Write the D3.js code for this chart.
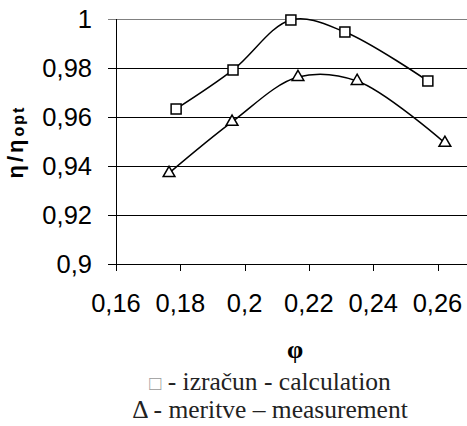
<!DOCTYPE html>
<html>
<head>
<meta charset="utf-8">
<script src="https://cdn.jsdelivr.net/npm/d3@7"></script>
<style>
  body { margin: 0; background: #fff; }
  svg { display: block; }
  .sans { font-family: "Liberation Sans", Arial, sans-serif; }
  .serif { font-family: "Liberation Serif", "Times New Roman", serif; }
</style>
</head>
<body>
<div id="chart"></div>
<script>
// values
var calcPhi = [0.1787, 0.1964, 0.2144, 0.2312, 0.2570];
var calcEta = [0.9633, 0.9792, 0.9996, 0.9947, 0.9747];
var measPhi = [0.1765, 0.1961, 0.2166, 0.2350, 0.2623];
var measEta = [0.9371, 0.9580, 0.9763, 0.9747, 0.9494];
var xTicks = [0.16, 0.18, 0.2, 0.22, 0.24, 0.26];
var yTicks = [0.9, 0.92, 0.94, 0.96, 0.98, 1];
var legendMarks = ["\u25A1", "\u0394"];
var legendTexts = [" - izra\u010Dun - calculation", " - meritve \u2013 measurement"];

var width = 467;
var height = 426;
var margin = {left: 116, top: 19, bottom: 162};

var fmt = function(v) { return String(+v.toFixed(2)).replace(".", ","); };

var x = d3.scaleLinear().domain([0.16, 0.27]).range([margin.left, margin.left + 5.5 * 64.3]);
var y = d3.scaleLinear().domain([0.9, 1]).range([height - margin.bottom, margin.top]);

var svg = d3.select("#chart").append("svg")
    .attr("width", width)
    .attr("height", height);

//horizontal gridlines with outside ticks
svg.append("g").selectAll("line").data(yTicks).enter().append("line")
    .attr("x1", margin.left - 8)
    .attr("x2", width)
    .attr("y1", function(d) { return Math.round(y(d)) + 0.5; })
    .attr("y2", function(d) { return Math.round(y(d)) + 0.5; })
    .attr("stroke", function(d) { return d === 1 ? "#808080" : "#000"; })
    .attr("stroke-width", 1);

svg.append("g").selectAll("text").data(yTicks).enter().append("text")
    .attr("class", "sans")
    .attr("x", 92)
    .attr("y", function(d) { return y(d); })
    .attr("dy", "0.36em")
    .attr("text-anchor", "end")
    .attr("font-size", 25.5)
    .text(fmt);

//y axis line
svg.append("line")
    .attr("x1", margin.left + 0.5).attr("x2", margin.left + 0.5)
    .attr("y1", y(1)).attr("y2", y(0.9))
    .attr("stroke", "#000");

//x axis ticks
svg.append("g").selectAll("line").data(xTicks).enter().append("line")
    .attr("x1", function(d) { return Math.round(x(d)) + 0.5; })
    .attr("x2", function(d) { return Math.round(x(d)) + 0.5; })
    .attr("y1", y(0.9))
    .attr("y2", y(0.9) + 7)
    .attr("stroke", "#000");

svg.append("g").selectAll("text").data(xTicks).enter().append("text")
    .attr("class", "sans")
    .attr("x", function(d) { return x(d); })
    .attr("y", 312)
    .attr("text-anchor", "middle")
    .attr("font-size", 25.5)
    .text(fmt);

//smoothed series lines
var line = d3.line()
    .x(function(d) { return x(d[0]); })
    .y(function(d) { return y(d[1]); })
    .curve(d3.curveCatmullRom.alpha(0.5));

var calc = d3.zip(calcPhi, calcEta);
var meas = d3.zip(measPhi, measEta);

svg.append("path").datum(calc).attr("d", line)
    .attr("fill", "none").attr("stroke", "#000").attr("stroke-width", 1.5);
svg.append("path").datum(meas).attr("d", line)
    .attr("fill", "none").attr("stroke", "#000").attr("stroke-width", 1.5);

svg.append("g").selectAll("path").data(calc).enter().append("path")
    .attr("d", d3.symbol().type(d3.symbolSquare).size(100))
    .attr("transform", function(d) { return "translate(" + x(d[0]) + "," + y(d[1]) + ")"; })
    .attr("fill", "#fff").attr("stroke", "#000").attr("stroke-width", 1.5);

svg.append("g").selectAll("path").data(meas).enter().append("path")
    .attr("d", d3.symbol().type(d3.symbolTriangle).size(60))
    .attr("transform", function(d) { return "translate(" + x(d[0]) + "," + y(d[1]) + ")"; })
    .attr("fill", "#fff").attr("stroke", "#000").attr("stroke-width", 1.5);

//axis titles
var yTitle = svg.append("text")
    .attr("class", "sans")
    .attr("transform", "translate(23,142) rotate(-90)")
    .attr("text-anchor", "middle")
    .attr("font-weight", "bold")
    .attr("font-size", 22);
yTitle.append("tspan").attr("letter-spacing", 3).text("\u03B7/\u03B7");
yTitle.append("tspan").attr("font-size", 16).attr("letter-spacing", 2).attr("dy", 1).text("opt");

svg.append("text")
    .attr("class", "serif")
    .attr("x", 295).attr("y", 358)
    .attr("text-anchor", "middle")
    .attr("font-weight", "bold")
    .attr("font-size", 26)
    .text("\u03C6");

//legend text under the chart
var legend = svg.append("g").selectAll("text").data(legendTexts).enter().append("text")
    .attr("class", "serif")
    .attr("x", 270)
    .attr("y", function(d, i) { return 390 + i * 28; })
    .attr("text-anchor", "middle")
    .attr("font-size", 25.5)
    .attr("fill", "#222");
legend.append("tspan")
    .attr("fill", function(d, i) { return i === 0 ? "#999" : "#222"; })
    .attr("font-size", function(d, i) { return i === 0 ? 20 : 25.5; })
    .text(function(d, i) { return legendMarks[i]; });
legend.append("tspan")
    .text(function(d) { return d; });
</script>
</body>
</html>
